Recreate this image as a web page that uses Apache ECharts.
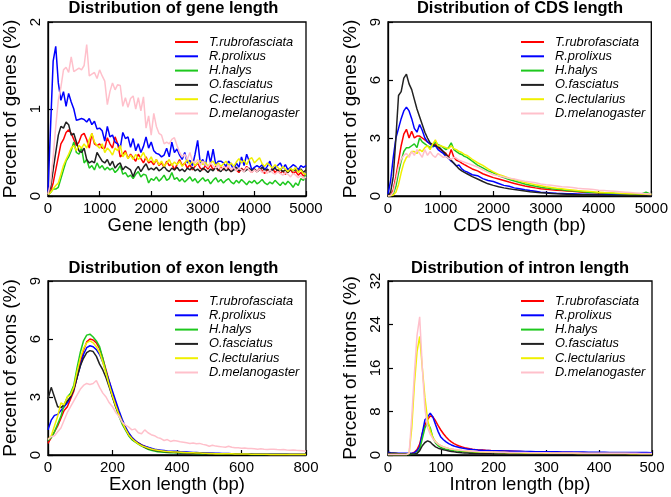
<!DOCTYPE html>
<html><head><meta charset="utf-8">
<script src="https://cdn.jsdelivr.net/npm/echarts@6/dist/echarts.min.js"></script>
<style>html,body{margin:0;padding:0;background:#fff}#c{width:671px;height:497px}</style>
</head><body><div id="c"></div>
<script>
const speciesNames = ['T.rubrofasciata','R.prolixus','H.halys','O.fasciatus','C.lectularius','D.melanogaster'];
const speciesColors = ['#ff0000','#0000ff','#1ec81e','#222222','#f0f000','#ffc0cb'];

// ---------- Panel 1: gene length ----------
const geneX = [0,50,100,150,200,250,300,350,400,450,500,550,600,650,700,750,800,850,900,950,1000,1050,1100,1150,1200,1250,1300,1350,1400,1450,1500,1550,1600,1650,1700,1750,1800,1850,1900,1950,2000,2050,2100,2150,2200,2250,2300,2350,2400,2450,2500,2550,2600,2650,2700,2750,2800,2850,2900,2950,3000,3050,3100,3150,3200,3250,3300,3350,3400,3450,3500,3550,3600,3650,3700,3750,3800,3850,3900,3950,4000,4050,4100,4150,4200,4250,4300,4350,4400,4450,4500,4550,4600,4650,4700,4750,4800,4850,4900,4950,5000];
const geneRed = [0.02,0.05,0.15,0.3,0.45,0.6,0.65,0.73,0.76,0.72,0.65,0.58,0.62,0.7,0.72,0.65,0.55,0.72,0.6,0.58,0.6,0.55,0.55,0.67,0.6,0.55,0.68,0.6,0.45,0.48,0.52,0.43,0.48,0.44,0.4,0.48,0.43,0.38,0.45,0.38,0.4,0.36,0.42,0.35,0.38,0.33,0.4,0.35,0.37,0.3,0.36,0.42,0.35,0.38,0.32,0.36,0.3,0.34,0.38,0.32,0.3,0.35,0.31,0.36,0.3,0.34,0.29,0.33,0.3,0.35,0.31,0.28,0.33,0.3,0.27,0.32,0.29,0.34,0.3,0.27,0.31,0.28,0.32,0.29,0.26,0.3,0.28,0.32,0.27,0.3,0.26,0.29,0.25,0.28,0.3,0.26,0.28,0.24,0.27,0.23,0.25];
const geneBlue = [0.05,0.8,1.55,1.72,1.3,1.1,1.2,1.03,1.18,1.08,1.0,0.87,0.88,0.89,0.88,0.85,0.89,0.82,0.86,0.77,0.78,0.75,0.63,0.8,0.68,0.7,0.62,0.6,0.55,0.73,0.66,0.68,0.56,0.66,0.52,0.6,0.5,0.57,0.68,0.55,0.62,0.52,0.49,0.48,0.45,0.47,0.55,0.45,0.62,0.5,0.54,0.47,0.42,0.5,0.38,0.41,0.35,0.48,0.64,0.38,0.42,0.35,0.52,0.38,0.54,0.36,0.4,0.4,0.38,0.34,0.4,0.36,0.3,0.38,0.33,0.45,0.35,0.48,0.4,0.3,0.33,0.35,0.33,0.36,0.3,0.34,0.4,0.3,0.33,0.35,0.38,0.32,0.36,0.3,0.33,0.36,0.34,0.3,0.35,0.33,0.35];
const geneGreen = [0.02,0.04,0.08,0.08,0.1,0.2,0.3,0.4,0.45,0.52,0.62,0.5,0.48,0.55,0.38,0.42,0.32,0.35,0.3,0.38,0.32,0.35,0.3,0.33,0.3,0.32,0.27,0.3,0.35,0.25,0.27,0.22,0.24,0.2,0.25,0.28,0.22,0.25,0.24,0.15,0.2,0.18,0.22,0.17,0.2,0.24,0.18,0.2,0.27,0.19,0.21,0.17,0.2,0.16,0.19,0.22,0.17,0.2,0.15,0.18,0.21,0.17,0.19,0.14,0.18,0.21,0.16,0.19,0.15,0.18,0.2,0.16,0.14,0.18,0.15,0.19,0.16,0.13,0.17,0.15,0.18,0.14,0.16,0.19,0.15,0.13,0.16,0.14,0.18,0.15,0.12,0.16,0.13,0.17,0.14,0.1,0.15,0.12,0.2,0.18,0.25];
const geneBlack = [0.02,0.1,0.3,0.5,0.7,0.8,0.78,0.85,0.82,0.7,0.72,0.62,0.52,0.5,0.55,0.42,0.38,0.4,0.38,0.5,0.45,0.4,0.38,0.42,0.35,0.4,0.32,0.36,0.38,0.3,0.34,0.32,0.3,0.22,0.3,0.34,0.28,0.33,0.37,0.3,0.32,0.3,0.33,0.29,0.31,0.34,0.3,0.28,0.32,0.3,0.33,0.29,0.31,0.28,0.32,0.3,0.33,0.29,0.31,0.28,0.32,0.3,0.27,0.31,0.29,0.33,0.3,0.28,0.32,0.29,0.31,0.28,0.3,0.33,0.29,0.31,0.28,0.3,0.32,0.29,0.31,0.28,0.3,0.33,0.29,0.31,0.28,0.3,0.32,0.29,0.31,0.28,0.3,0.27,0.31,0.29,0.3,0.28,0.31,0.27,0.3];
const geneYellow = [0.02,0.04,0.08,0.12,0.15,0.25,0.35,0.42,0.48,0.55,0.58,0.52,0.58,0.55,0.6,0.55,0.65,0.72,0.62,0.58,0.55,0.6,0.5,0.55,0.52,0.47,0.55,0.52,0.58,0.45,0.5,0.43,0.47,0.42,0.48,0.42,0.45,0.5,0.43,0.4,0.45,0.38,0.42,0.36,0.4,0.34,0.38,0.42,0.35,0.39,0.36,0.4,0.34,0.38,0.42,0.36,0.4,0.35,0.38,0.41,0.36,0.39,0.34,0.38,0.4,0.35,0.38,0.34,0.37,0.4,0.35,0.38,0.34,0.39,0.43,0.38,0.41,0.36,0.42,0.44,0.38,0.41,0.44,0.37,0.34,0.38,0.35,0.32,0.36,0.33,0.3,0.34,0.31,0.28,0.32,0.29,0.33,0.27,0.3,0.26,0.25];
const genePink = [0.02,0.15,0.45,0.8,1.1,1.25,1.45,1.48,1.42,1.6,1.43,1.45,1.47,1.45,1.5,1.74,1.38,1.4,1.42,1.35,1.45,1.38,1.32,1.05,1.2,1.3,1.22,1.28,1.27,1.03,1.13,1.02,1.12,1.15,1.0,1.13,0.98,1.14,0.78,0.92,0.7,0.95,0.8,0.72,0.7,0.6,0.62,0.6,0.65,0.67,0.58,0.5,0.45,0.48,0.42,0.5,0.4,0.38,0.42,0.35,0.4,0.36,0.33,0.38,0.35,0.32,0.36,0.3,0.34,0.32,0.35,0.3,0.33,0.29,0.32,0.3,0.28,0.33,0.3,0.27,0.3,0.28,0.31,0.27,0.29,0.26,0.3,0.27,0.25,0.28,0.26,0.24,0.27,0.25,0.22,0.26,0.24,0.21,0.24,0.2,0.22];

// ---------- Panel 2: CDS length ----------
const cdsX = [0,50,100,150,200,250,300,350,400,450,500,550,600,650,700,750,800,850,900,950,1000,1050,1100,1150,1200,1250,1300,1350,1400,1450,1500,1600,1700,1800,1900,2000,2100,2200,2300,2400,2500,2600,2700,2800,2900,3000,3100,3200,3300,3400,3500,3600,3700,3800,3900,4000,4100,4200,4300,4400,4500,4600,4700,4800,4900,5000];
const cdsRed = [0,0.05,0.3,1.0,1.8,2.6,3.2,3.45,3.0,3.35,3.0,3.1,3.1,3.0,2.9,2.8,2.7,2.6,2.7,2.5,2.4,2.3,2.2,2.0,2.4,2.0,1.85,1.8,1.7,1.62,1.55,1.4,1.3,1.15,1.05,0.95,0.88,0.8,0.72,0.65,0.58,0.52,0.47,0.42,0.38,0.35,0.32,0.3,0.28,0.26,0.24,0.22,0.2,0.18,0.17,0.15,0.14,0.13,0.12,0.11,0.1,0.09,0.08,0.07,0.06,0.05];
const cdsBlue = [0.1,0.8,2.0,3.0,3.5,4.0,4.4,4.6,4.4,4.0,3.5,3.3,3.7,3.4,3.0,2.8,2.7,2.55,2.6,2.4,2.3,2.2,2.05,1.95,1.8,1.7,1.55,1.6,1.4,1.3,1.25,1.1,1.05,0.9,0.8,0.75,0.65,0.55,0.5,0.42,0.38,0.32,0.28,0.25,0.2,0.18,0.16,0.14,0.13,0.12,0.11,0.1,0.09,0.09,0.08,0.07,0.07,0.06,0.06,0.05,0.05,0.05,0.04,0.04,0.04,0.03];
const cdsGreen = [0,0.02,0.1,0.5,1.2,1.8,2.3,2.5,2.5,2.6,2.7,2.5,3.0,2.8,2.7,2.6,2.5,2.6,2.8,2.65,2.6,2.5,2.4,2.5,2.75,2.4,2.3,2.2,2.15,2.05,2.0,1.8,1.6,1.45,1.3,1.2,1.05,0.95,0.85,0.78,0.7,0.62,0.56,0.5,0.45,0.42,0.38,0.35,0.32,0.29,0.27,0.24,0.22,0.2,0.18,0.17,0.15,0.14,0.13,0.12,0.11,0.1,0.1,0.09,0.2,0.08];
const cdsBlack = [0,0.2,1.0,3.0,5.2,5.4,6.1,6.3,5.8,5.5,5.0,4.5,4.1,3.7,3.3,3.0,2.75,2.65,2.6,2.55,2.45,2.3,2.15,2.0,1.85,1.7,1.55,1.4,1.3,1.22,1.15,1.0,0.88,0.75,0.63,0.55,0.48,0.42,0.37,0.33,0.3,0.26,0.22,0.19,0.17,0.15,0.13,0.11,0.1,0.09,0.08,0.07,0.06,0.06,0.05,0.05,0.04,0.04,0.03,0.03,0.03,0.02,0.02,0.02,0.02,0.01];
const cdsYellow = [0,0.01,0.05,0.2,0.6,1.2,1.7,2.0,2.1,2.3,2.3,2.2,2.4,2.3,2.5,2.6,2.4,2.7,2.9,2.6,2.6,2.55,2.5,2.45,2.6,2.45,2.4,2.3,2.25,2.15,2.1,1.9,1.72,1.58,1.4,1.25,1.12,1.02,0.92,0.85,0.77,0.7,0.64,0.58,0.53,0.48,0.44,0.4,0.37,0.34,0.31,0.28,0.26,0.24,0.22,0.2,0.18,0.17,0.15,0.14,0.13,0.12,0.11,0.1,0.09,0.08];
const cdsPink = [0,0.02,0.2,0.8,1.5,1.9,2.1,2.2,2.0,2.3,2.1,2.4,2.2,2.0,2.4,2.1,2.3,2.1,2.0,2.2,2.1,2.0,2.05,1.95,1.9,2.0,1.95,1.85,1.8,1.75,1.7,1.6,1.5,1.35,1.22,1.1,1.05,0.98,0.92,0.88,0.82,0.76,0.72,0.68,0.62,0.58,0.55,0.52,0.48,0.46,0.44,0.4,0.38,0.36,0.33,0.3,0.28,0.26,0.24,0.22,0.2,0.18,0.16,0.14,0.12,0.1];

// ---------- Panel 3: exon length ----------
const exonX = [0,10,20,30,40,50,60,70,80,90,100,110,120,130,140,150,160,170,180,190,200,210,220,230,240,250,260,270,280,290,300,310,320,330,340,350,360,370,380,390,400,410,420,430,440,450,460,470,480,490,500,510,520,530,540,550,560,570,580,590,600,610,620,630,640,650,660,670,680,690,700,710,720,730,740,750,760,770,780,790,800];
const exonRed = [0.6,0.9,1.2,1.5,1.9,2.3,2.5,2.9,3.3,4.0,4.8,5.4,5.85,6.0,5.95,5.8,5.5,5.0,4.4,3.8,3.2,2.7,2.2,1.75,1.4,1.1,0.9,0.75,0.62,0.52,0.45,0.38,0.33,0.28,0.25,0.22,0.2,0.18,0.17,0.16,0.15,0.14,0.13,0.12,0.11,0.1,0.1,0.09,0.09,0.08,0.08,0.07,0.07,0.07,0.06,0.06,0.06,0.05,0.05,0.05,0.05,0.05,0.04,0.04,0.04,0.04,0.04,0.04,0.03,0.03,0.03,0.03,0.03,0.03,0.03,0.03,0.03,0.02,0.02,0.02,0.02];
const exonBlue = [1.3,1.8,2.05,2.1,2.3,2.5,2.7,3.0,3.4,4.0,4.6,5.2,5.55,5.65,5.6,5.45,5.2,4.8,4.3,3.8,3.3,2.8,2.3,1.85,1.45,1.15,0.92,0.75,0.62,0.52,0.45,0.4,0.35,0.3,0.27,0.25,0.23,0.21,0.2,0.19,0.2,0.17,0.16,0.15,0.14,0.13,0.13,0.12,0.11,0.11,0.1,0.1,0.09,0.09,0.08,0.08,0.08,0.07,0.07,0.07,0.06,0.06,0.06,0.06,0.05,0.05,0.05,0.05,0.05,0.04,0.04,0.04,0.04,0.04,0.04,0.03,0.03,0.03,0.03,0.03,0.03];
const exonGreen = [0.75,0.9,1.2,1.6,2.0,2.6,3.0,3.2,3.6,4.5,5.3,5.9,6.2,6.25,6.1,5.9,5.6,5.0,4.3,3.6,3.0,2.5,2.0,1.6,1.3,1.0,0.8,0.68,0.56,0.46,0.38,0.3,0.25,0.2,0.17,0.15,0.14,0.13,0.12,0.12,0.11,0.1,0.1,0.09,0.09,0.08,0.08,0.07,0.07,0.07,0.06,0.06,0.06,0.05,0.05,0.05,0.05,0.04,0.04,0.04,0.04,0.04,0.04,0.03,0.03,0.03,0.03,0.03,0.03,0.03,0.03,0.02,0.02,0.02,0.02,0.02,0.02,0.02,0.02,0.02,0.02];
const exonBlack = [2.9,3.5,3.0,2.5,2.45,2.6,2.8,3.0,3.4,4.0,4.6,5.0,5.3,5.4,5.35,5.1,4.7,4.4,4.0,3.5,3.0,2.5,2.1,1.7,1.35,1.05,0.85,0.7,0.6,0.5,0.4,0.34,0.29,0.25,0.22,0.2,0.18,0.16,0.15,0.14,0.13,0.12,0.11,0.1,0.1,0.09,0.09,0.08,0.08,0.07,0.07,0.07,0.06,0.06,0.06,0.05,0.05,0.05,0.05,0.04,0.04,0.04,0.04,0.04,0.03,0.03,0.03,0.03,0.03,0.03,0.03,0.03,0.02,0.02,0.02,0.02,0.02,0.02,0.02,0.02,0.02];
const exonYellow = [0.8,1.0,1.5,2.0,2.7,2.6,3.0,3.1,3.5,4.3,5.0,5.5,5.8,5.9,5.8,5.6,5.3,4.8,4.2,3.6,3.05,2.55,2.1,1.7,1.35,1.05,0.85,0.7,0.58,0.48,0.42,0.36,0.31,0.27,0.24,0.22,0.2,0.18,0.17,0.16,0.15,0.14,0.13,0.12,0.11,0.11,0.1,0.1,0.09,0.09,0.08,0.08,0.07,0.07,0.07,0.06,0.06,0.06,0.05,0.05,0.05,0.05,0.05,0.04,0.04,0.04,0.04,0.04,0.04,0.03,0.03,0.03,0.03,0.03,0.03,0.03,0.03,0.03,0.02,0.02,0.02];
const exonPink = [0.8,0.95,1.0,1.2,1.4,1.8,2.2,2.5,2.8,3.1,3.4,3.6,3.7,3.65,3.7,3.85,3.5,3.2,3.0,2.7,2.5,2.2,2.0,1.7,1.55,1.45,1.3,1.35,1.15,1.1,1.3,1.15,1.05,1.0,0.9,0.85,0.75,0.8,0.7,0.75,0.72,0.68,0.66,0.63,0.6,0.62,0.58,0.6,0.55,0.52,0.45,0.5,0.46,0.44,0.42,0.4,0.45,0.4,0.38,0.37,0.35,0.36,0.34,0.33,0.32,0.3,0.32,0.3,0.29,0.3,0.3,0.28,0.27,0.28,0.26,0.25,0.26,0.24,0.23,0.22,0.2];

// ---------- Panel 4: intron length ----------
const intronX = [0,5,10,15,20,25,30,35,40,45,50,55,60,65,70,75,80,85,90,95,100,105,110,115,120,125,130,135,140,145,150,155,160,165,170,175,180,185,190,195,200,210,220,230,240,250,260,270,280,290,300,310,320,330,340,350,360,370,380,390,400,410,420,430,440,450,460,470,480,490,500];
const intronRed = [0.2,0.2,0.2,0.2,0.2,0.2,0.2,0.2,0.2,0.3,0.5,1.0,2.0,4.0,5.5,6.5,7.2,7.0,6.3,5.4,4.6,3.9,3.3,2.8,2.4,2.1,1.85,1.65,1.5,1.35,1.25,1.15,1.08,1.02,0.97,0.93,0.9,0.87,0.85,0.82,0.8,0.77,0.74,0.71,0.68,0.65,0.62,0.6,0.58,0.56,0.54,0.52,0.5,0.48,0.46,0.44,0.43,0.42,0.41,0.4,0.39,0.38,0.37,0.36,0.35,0.34,0.33,0.32,0.31,0.3,0.3];
const intronBlue = [0.5,0.4,0.35,0.3,0.3,0.3,0.3,0.3,0.3,0.3,0.4,0.8,1.5,4.0,6.5,7.0,7.7,7.0,5.6,4.3,3.3,2.8,2.4,2.1,1.85,1.65,1.5,1.38,1.28,1.2,1.12,1.06,1.0,0.96,0.92,0.89,0.86,0.84,0.82,0.8,0.78,0.76,0.74,0.72,0.7,0.68,0.66,0.64,0.62,0.61,0.6,0.59,0.58,0.57,0.56,0.55,0.54,0.53,0.52,0.51,0.5,0.49,0.48,0.47,0.46,0.46,0.45,0.45,0.44,0.44,0.43];
const intronGreen = [0.1,0.1,0.1,0.1,0.1,0.1,0.1,0.1,0.1,0.15,0.2,0.4,1.0,3.0,5.0,5.9,5.0,3.2,2.2,1.7,1.4,1.2,1.05,0.95,0.88,0.8,0.75,0.7,0.65,0.61,0.58,0.55,0.52,0.5,0.48,0.46,0.45,0.44,0.42,0.41,0.4,0.38,0.36,0.35,0.33,0.32,0.31,0.3,0.29,0.28,0.27,0.26,0.26,0.25,0.24,0.24,0.23,0.23,0.22,0.22,0.21,0.21,0.2,0.2,0.2,0.19,0.19,0.19,0.18,0.18,0.18];
const intronBlack = [0.3,0.3,0.3,0.3,0.25,0.25,0.25,0.2,0.2,0.2,0.2,0.3,0.8,1.7,2.3,2.6,2.4,1.9,1.5,1.25,1.1,0.95,0.85,0.75,0.65,0.58,0.52,0.47,0.42,0.38,0.35,0.32,0.3,0.28,0.26,0.25,0.24,0.23,0.22,0.21,0.2,0.19,0.18,0.17,0.17,0.16,0.16,0.15,0.15,0.14,0.14,0.13,0.13,0.13,0.12,0.12,0.12,0.11,0.11,0.11,0.11,0.1,0.1,0.1,0.1,0.1,0.1,0.09,0.09,0.09,0.09];
const intronYellow = [0.1,0.1,0.1,0.1,0.1,0.1,0.1,0.1,0.3,5.0,13.0,19.0,21.8,16.0,10.5,6.5,4.5,3.2,2.5,2.0,1.7,1.5,1.35,1.22,1.12,1.02,0.95,0.88,0.82,0.77,0.72,0.68,0.64,0.61,0.58,0.56,0.54,0.52,0.51,0.5,0.49,0.47,0.45,0.43,0.41,0.4,0.38,0.37,0.36,0.35,0.34,0.33,0.32,0.31,0.3,0.3,0.29,0.29,0.28,0.28,0.27,0.27,0.27,0.26,0.26,0.26,0.25,0.25,0.25,0.25,0.25];
const intronPink = [0.1,0.1,0.1,0.1,0.1,0.1,0.1,0.1,0.3,7.0,15.0,22.0,25.4,16.0,8.5,5.0,3.8,3.0,2.4,2.0,1.7,1.5,1.35,1.22,1.12,1.04,0.97,0.91,0.86,0.82,0.78,0.74,0.7,0.67,0.64,0.62,0.6,0.58,0.56,0.55,0.54,0.52,0.5,0.48,0.46,0.45,0.44,0.43,0.42,0.41,0.4,0.39,0.38,0.37,0.36,0.35,0.35,0.34,0.34,0.33,0.33,0.32,0.32,0.31,0.31,0.3,0.3,0.3,0.29,0.29,0.29];

// ---------- axes / texts ----------
const panelTitles = ['Distribution of gene length','Distribution of CDS length','Distribution of exon length','Distribution of intron length'];
const xNames = ['Gene length (bp)','CDS length (bp)','Exon length (bp)','Intron length (bp)'];
const yNames = ['Percent of genes (%)','Percent of genes (%)','Percent of exons (%)','Percent of introns (%)'];
const xMax = [5000,5000,800,500];
const xStep = [1000,1000,200,100];
const yMax = [2,9,9,32];
const yStep = [1,3,3,8];

const panels = [
  {x: geneX, ys: [geneRed, geneBlue, geneGreen, geneBlack, geneYellow, genePink]},
  {x: cdsX, ys: [cdsRed, cdsBlue, cdsGreen, cdsBlack, cdsYellow, cdsPink]},
  {x: exonX, ys: [exonRed, exonBlue, exonGreen, exonBlack, exonYellow, exonPink]},
  {x: intronX, ys: [intronRed, intronBlue, intronGreen, intronBlack, intronYellow, intronPink]}
];

const FONT = '"Liberation Sans", Arial, Helvetica, sans-serif';
const gridPos = [
  {left: 41, top: 22, width: 265, height: 174},
  {left: 388, top: 22, width: 264, height: 174},
  {left: 41, top: 281, width: 265, height: 174},
  {left: 388, top: 281, width: 264, height: 174}
];
const titleTop = [0, 0, 260, 260];
const legendPos = [{left: 175, top: 35}, {left: 521, top: 35}, {left: 175, top: 294}, {left: 521, top: 294}];

const grid = gridPos.map(g => Object.assign({show: true, borderColor: '#000', borderWidth: 1.3, backgroundColor: 'transparent'}, g));
const title = panelTitles.map((t, i) => ({
  text: t, left: gridPos[i].left + gridPos[i].width / 2, top: titleTop[i], textAlign: 'center', padding: 0,
  textStyle: {fontFamily: FONT, fontWeight: 'bold', fontSize: 16.5, color: '#000'}
}));
const plain = v => String(v);
const xAxis = panels.map((p, i) => ({
  type: 'value', gridIndex: i, min: 0, max: xMax[i], interval: xStep[i],
  name: xNames[i], nameLocation: 'middle', nameGap: 20,
  nameTextStyle: {fontFamily: FONT, fontSize: 18.5, color: '#000'},
  axisLine: {show: true, lineStyle: {color: '#000', width: 1.3}},
  axisTick: {show: true, inside: true, length: 5, lineStyle: {color: '#000', width: 1.2}},
  axisLabel: {fontFamily: FONT, fontSize: 15, color: '#000', margin: 5, formatter: plain, showMinLabel: true, showMaxLabel: true},
  splitLine: {show: false}
}));
const yAxis = panels.map((p, i) => ({
  type: 'value', gridIndex: i, min: 0, max: yMax[i], interval: yStep[i],
  name: yNames[i], nameLocation: 'middle', nameGap: 28, nameRotate: 90,
  nameTextStyle: {fontFamily: FONT, fontSize: 19, color: '#000'},
  axisLine: {show: true, lineStyle: {color: '#000', width: 1.3}},
  axisTick: {show: true, inside: true, length: 5, lineStyle: {color: '#000', width: 1.2}},
  axisLabel: {fontFamily: FONT, fontSize: 15, color: '#000', margin: 5, rotate: 90, formatter: plain, showMinLabel: true, showMaxLabel: true},
  splitLine: {show: false}
}));
const legend = legendPos.map(pos => ({
  orient: 'vertical', left: pos.left, top: pos.top, padding: 0, itemGap: 0.3,
  itemWidth: 23, itemHeight: 2, icon: 'rect', selectedMode: false,
  data: speciesNames.map((n, k) => ({name: n, itemStyle: {color: speciesColors[k]}})),
  textStyle: {fontFamily: FONT, fontStyle: 'italic', fontSize: 12.8, color: '#000', lineHeight: 14, padding: [0, 0, 0, 6]}
}));
const series = [];
panels.forEach((p, i) => {
  p.ys.forEach((ys, k) => {
    series.push({
      type: 'line', name: speciesNames[k], xAxisIndex: i, yAxisIndex: i,
      data: p.x.map((x, j) => [x, ys[j]]),
      symbol: 'none', showSymbol: false, clip: true,
      lineStyle: {color: speciesColors[k], width: 1.5},
      itemStyle: {color: speciesColors[k]}
    });
  });
});

const chart = echarts.init(document.getElementById('c'), null, {renderer: 'canvas'});
chart.setOption({animation: false, backgroundColor: '#fff', grid, title, xAxis, yAxis, legend, series});
</script>
</body></html>
